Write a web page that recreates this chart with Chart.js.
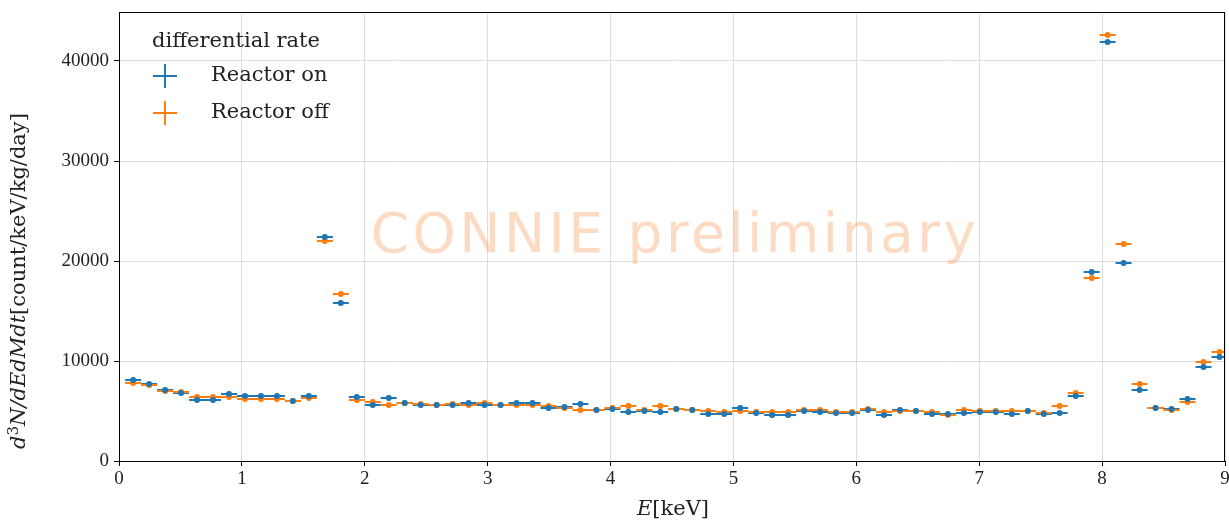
<!DOCTYPE html>
<html>
<head>
<meta charset="utf-8">
<script src="https://cdn.jsdelivr.net/npm/chart.js@4.4.1/dist/chart.umd.min.js"></script>
<style>
  html, body { margin: 0; padding: 0; background: #fff; }
  #wrap { width: 1229px; height: 523px; }
</style>
</head>
<body>
<div id="wrap"><canvas id="rateChart" width="1229" height="523"></canvas></div>
<script>
// energy bin centres [keV], bins are 0.13 keV wide
const binCenters = [
  0.115, 0.245, 0.375, 0.505, 0.635, 0.765, 0.895, 1.025, 1.155, 1.285,
  1.415, 1.545, 1.675, 1.805, 1.935, 2.065, 2.195, 2.325, 2.455, 2.585,
  2.715, 2.845, 2.975, 3.105, 3.235, 3.365, 3.495, 3.625, 3.755, 3.885,
  4.015, 4.145, 4.275, 4.405, 4.535, 4.665, 4.795, 4.925, 5.055, 5.185,
  5.315, 5.445, 5.575, 5.705, 5.835, 5.965, 6.095, 6.225, 6.355, 6.485,
  6.615, 6.745, 6.875, 7.005, 7.135, 7.265, 7.395, 7.525, 7.655, 7.785,
  7.915, 8.045, 8.175, 8.305, 8.435, 8.565, 8.695, 8.825, 8.955
];
const binHalfWidth = 0.065;

// differential rate [count/keV/kg/day]
const rateOn = [
  8100, 7700, 7100, 6800, 6100, 6100, 6700, 6500, 6500, 6500,
  6000, 6500, 22400, 15800, 6400, 5600, 6300, 5800, 5600, 5600,
  5600, 5800, 5600, 5600, 5800, 5800, 5300, 5400, 5700, 5100,
  5200, 4900, 5000, 4900, 5200, 5100, 4700, 4700, 5300, 4800,
  4600, 4600, 5000, 4900, 4800, 4800, 5100, 4600, 5100, 5000,
  4700, 4700, 4800, 4900, 4900, 4700, 5000, 4700, 4800, 6500,
  18900, 41900, 19800, 7100, 5300, 5200, 6200, 9400, 10400
];
const rateOff = [
  7800, 7600, 7000, 6900, 6400, 6400, 6400, 6200, 6200, 6200,
  6000, 6300, 22000, 16700, 6100, 5900, 5600, 5800, 5700, 5600,
  5700, 5600, 5800, 5600, 5600, 5600, 5500, 5300, 5100, 5100,
  5300, 5500, 5100, 5500, 5200, 5100, 5000, 4900, 5000, 4900,
  4900, 4900, 5100, 5100, 4900, 4900, 5200, 4900, 5000, 5000,
  4900, 4600, 5100, 5000, 5000, 5000, 5000, 4800, 5500, 6800,
  18300, 42600, 21700, 7700, 5300, 5100, 5900, 9900, 10900
];
const rateErr = 250;

const xTicks = [0, 1, 2, 3, 4, 5, 6, 7, 8, 9];
const yTicks = [0, 10000, 20000, 30000, 40000];

const BLUE = "#1f77b4";
const ORANGE = "#ff7f0e";
const SERIF = "'Liberation Serif', 'DejaVu Serif', serif";
const WIDE_SERIF = "'DejaVu Serif', serif";

const toPoints = (ys) => binCenters.map((x, i) => ({ x: x, y: ys[i] }));

// horizontal (bin width) and vertical error bars for each point
const errorBars = {
  id: "errorBars",
  beforeDatasetsDraw(chart) {
    const { ctx, chartArea: a, scales: { x, y } } = chart;
    ctx.save();
    ctx.beginPath();
    ctx.rect(a.left, a.top, a.right - a.left, a.bottom - a.top);
    ctx.clip();
    chart.data.datasets.forEach((ds) => {
      ctx.strokeStyle = ds.borderColor;
      ctx.lineWidth = 2;
      ds.data.forEach((p) => {
        const px = x.getPixelForValue(p.x);
        const py = y.getPixelForValue(p.y);
        ctx.beginPath();
        ctx.moveTo(x.getPixelForValue(p.x - binHalfWidth), py);
        ctx.lineTo(x.getPixelForValue(p.x + binHalfWidth), py);
        ctx.moveTo(px, y.getPixelForValue(p.y - rateErr));
        ctx.lineTo(px, y.getPixelForValue(p.y + rateErr));
        ctx.stroke();
      });
    });
    ctx.restore();
  },
};

// frame, watermark, legend and axis titles
const decorations = {
  id: "decorations",
  beforeDatasetsDraw(chart) {
    const { ctx } = chart;
    ctx.save();
    ctx.fillStyle = "rgba(248, 160, 95, 0.38)";
    ctx.font = "55px 'DejaVu Sans', sans-serif";
    ctx.letterSpacing = "3.5px";
    ctx.textAlign = "center";
    ctx.textBaseline = "alphabetic";
    ctx.fillText("CONNIE preliminary", 675, 252);
    ctx.restore();
  },
  afterDraw(chart) {
    const { ctx, chartArea: a } = chart;
    ctx.save();
    ctx.strokeStyle = "#000";
    ctx.lineWidth = 1;
    ctx.strokeRect(a.left + 0.5, a.top + 0.5, a.right - a.left - 1, a.bottom - a.top);

    // legend
    ctx.fillStyle = "#222";
    ctx.textBaseline = "middle";
    ctx.textAlign = "left";
    ctx.font = "21px " + WIDE_SERIF;
    ctx.fillText("differential rate", 152, 42);
    const entries = [["Reactor on", BLUE, 76], ["Reactor off", ORANGE, 113]];
    entries.forEach(([label, color, cy]) => {
      ctx.strokeStyle = color;
      ctx.lineWidth = 2;
      ctx.beginPath();
      ctx.moveTo(153, cy);
      ctx.lineTo(177, cy);
      ctx.moveTo(165, cy - 12);
      ctx.lineTo(165, cy + 12);
      ctx.stroke();
      ctx.fillStyle = "#222";
      ctx.fillText(label, 211, cy);
    });

    // x axis title
    drawRich(ctx, [["E", "italic"], ["[keV]", ""]], 673, 510, 0);
    // y axis title
    drawRich(ctx, [["d", "italic"], ["3", "sup"], ["N/dEdMdt", "italic"],
      ["[count/keV/kg/day]", ""]], 20, 281, -Math.PI / 2);
    ctx.restore();
  },
};

function drawRich(ctx, parts, cx, cy, angle) {
  const size = 21;
  const fontFor = (s) => s === "italic" ? "italic " + size + "px " + WIDE_SERIF
    : s === "sup" ? Math.round(size * 0.7) + "px " + WIDE_SERIF
    : size + "px " + WIDE_SERIF;
  let total = 0;
  parts.forEach(([t, s]) => { ctx.font = fontFor(s); total += ctx.measureText(t).width; });
  ctx.save();
  ctx.translate(cx, cy);
  ctx.rotate(angle);
  ctx.fillStyle = "#222";
  ctx.textAlign = "left";
  ctx.textBaseline = "middle";
  let pos = -total / 2;
  parts.forEach(([t, s]) => {
    ctx.font = fontFor(s);
    ctx.fillText(t, pos, s === "sup" ? -6 : 0);
    pos += ctx.measureText(t).width;
  });
  ctx.restore();
}

new Chart(document.getElementById("rateChart"), {
  type: "scatter",
  data: {
    datasets: [
      { label: "Reactor on", data: toPoints(rateOn), borderColor: BLUE, backgroundColor: BLUE,
        pointRadius: 3, pointBorderWidth: 0 },
      { label: "Reactor off", data: toPoints(rateOff), borderColor: ORANGE, backgroundColor: ORANGE,
        pointRadius: 3, pointBorderWidth: 0 },
    ],
  },
  options: {
    responsive: false,
    animation: false,
    layout: { padding: { top: 12, right: 3, left: 0, bottom: 0 } },
    plugins: { legend: { display: false }, tooltip: { enabled: false } },
    scales: {
      x: {
        type: "linear",
        min: 0,
        max: 9,
        afterBuildTicks: (s) => { s.ticks = xTicks.map((v) => ({ value: v })); },
        afterFit: (s) => { s.height = 62; s.paddingLeft = 0; s.paddingRight = 0; },
        grid: { color: "#dedede", lineWidth: 1, tickLength: 5, tickColor: "#000" },
        border: { color: "#000" },
        ticks: { color: "#222", font: { family: SERIF, size: 19 }, padding: 2, maxRotation: 0 },
      },
      y: {
        type: "linear",
        min: 0,
        max: 44900,
        afterBuildTicks: (s) => { s.ticks = yTicks.map((v) => ({ value: v })); },
        afterFit: (s) => { s.width = 119; s.paddingTop = 0; s.paddingBottom = 0; },
        grid: { color: "#dedede", lineWidth: 1, tickLength: 5, tickColor: "#000" },
        border: { color: "#000" },
        ticks: { color: "#222", font: { family: SERIF, size: 19 }, padding: 5,
          callback: (v) => String(v) },
      },
    },
  },
  plugins: [errorBars, decorations],
});
</script>
</body>
</html>
